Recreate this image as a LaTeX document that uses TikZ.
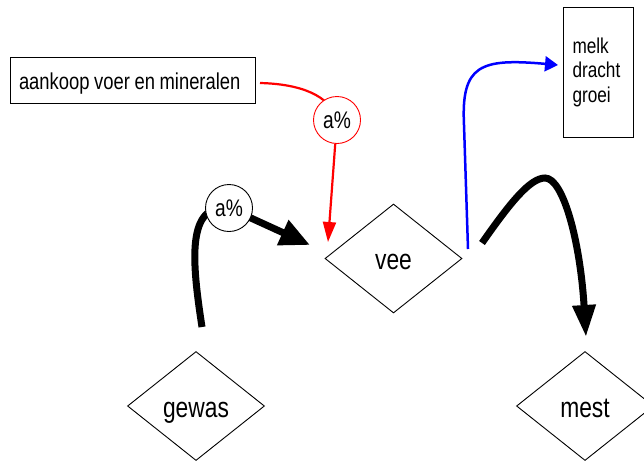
\documentclass[tikz,border=0pt]{standalone}
\usepackage{fontspec}
\setmainfont{Liberation Sans}[FakeStretch=0.8]
\usetikzlibrary{arrows.meta,shapes.geometric,backgrounds}

\tikzset{
  stock/.style={draw, diamond, minimum width=137pt, minimum height=109pt,
    inner sep=0pt, line width=0.9pt, font=\fontsize{28.5}{34}\selectfont,
    text height=22pt, text depth=0pt},
  infobox/.style={draw, rectangle, line width=0.9pt, inner ysep=0pt, align=left},
  pct/.style={circle, draw, fill=white, line width=0.9pt, minimum size=47pt,
    inner sep=0pt, font=\fontsize{24}{28}\selectfont},
  heavy/.style={line width=7pt},
  heavytip/.style={-{Triangle[length=30pt,width=26pt]}},
  feed/.style={draw=red, line width=2.2pt, -{Triangle[length=20pt,width=13pt]}},
  output/.style={draw=blue, line width=2.5pt, -{Triangle[length=13pt,width=15pt]}}
}

\begin{document}
\begin{tikzpicture}[x=1pt,y=-1pt]
\useasboundingbox (0,0) rectangle (644,461);

% stocks
\node[stock] (vee)   at (393.5,258.5) {vee};
\node[stock] (gewas) at (196,406)     {gewas};
\node[stock] (mest)  at (585,406)     {mest};

% text boxes
\node[infobox, text width=227pt, inner xsep=9pt, minimum height=46pt,
      text height=18pt, text depth=0pt, font=\fontsize{23}{27}\selectfont]
      (voer) at (132.5,80) {\spaceskip=4.6pt\relax aankoop voer en mineralen};
\node[infobox, text width=51pt, inner xsep=9.5pt, minimum height=130pt,
      font=\fontsize{21.5}{24.5}\selectfont]
      (prod) at (598,72) {melk\\dracht\\groei};

% rate circles
\node[pct]            (pg) at (229,208) {a\%};
\node[pct, draw=red]  (pv) at (337,120) {a\%};

% free connector ends
\coordinate (g1) at (202,327);
\coordinate (v1) at (310,245);
\coordinate (r1) at (260,83);
\coordinate (v2) at (328,242);
\coordinate (v3) at (468,249);
\coordinate (b1) at (464,125);
\coordinate (p1) at (558,65);
\coordinate (v4) at (482,243);
\coordinate (m0) at (545,178);
\coordinate (m1) at (586,337);

\begin{scope}[on background layer]
  % crop to livestock
  \draw[heavy, heavytip] (g1) .. controls (192,262) and (186,203) .. (pg.center) -- (v1);
  % purchased feed to livestock
  \draw[draw=red, line width=2.2pt] (r1) .. controls (300,84) and (330,95) .. (pv.center);
  \draw[feed] (pv) -- (v2);
  % livestock to products
  \draw[output] (v3) -- (b1) .. controls (461,65) and (480,58) .. (p1);
  % livestock to manure
  \draw[heavy, -{Triangle[length=32pt,width=22pt]}] (v4)
    .. controls (510,203) and (530,178) .. (m0)
    .. controls (563,178) and (580,240) .. (m1);
\end{scope}
\end{tikzpicture}
\end{document}
